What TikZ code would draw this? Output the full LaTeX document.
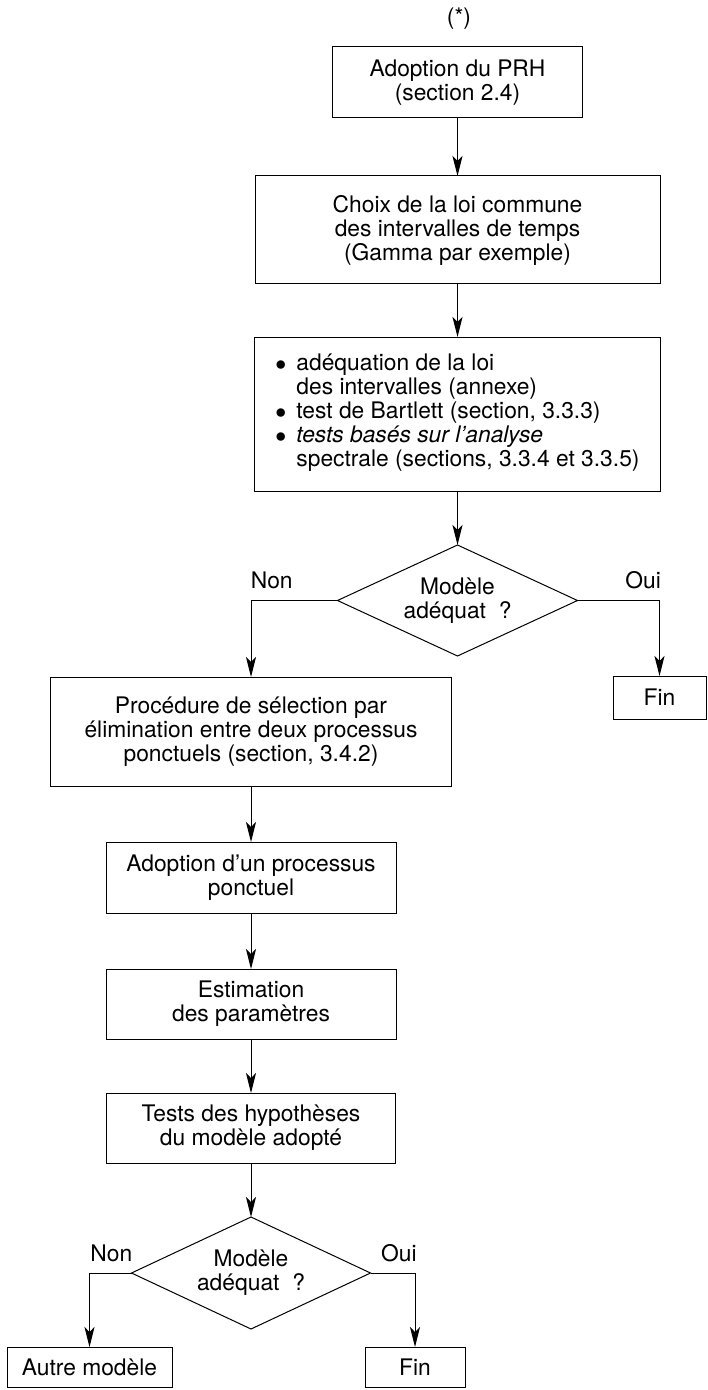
\documentclass[tikz,border=0pt]{standalone}
\usepackage{fontspec}
\setmainfont{TeX Gyre Heros}
\usetikzlibrary{positioning, arrows.meta, shapes}

\begin{document}
\begin{tikzpicture}[>={Stealth[length=10pt, width=5pt, inset=2.5pt]}, line width=0.5pt,
    every node/.style={font=\fontsize{11.4}{12}\selectfont},
    box/.style={draw, rectangle, align=center, inner sep=0pt, outer sep=0pt},
    test/.style={draw, diamond, shape aspect=2.16, align=center, inner sep=0pt, outer sep=0pt, minimum width=120pt, minimum height=55.5pt},
    lbl/.style={above=2pt}]
  \useasboundingbox (0,0) rectangle (353.5pt,-695pt);

  \node (star) at (229.5pt,-9.5pt) {(*)};
  \node[box, minimum width=125pt, minimum height=35.5pt] (prh) at (228.75pt,-41.25pt) {Adoption du PRH\\(section 2.4)};
  \node[box, minimum width=202.5pt, minimum height=54pt] (loi) [below = 29pt of prh] {Choix de la loi commune\\des intervalles de temps\\(Gamma par exemple)};
  \node[box, minimum width=203pt, minimum height=77pt] (crit) [below = 26.5pt of loi] {%
    \begin{tabular}{@{}l@{\hspace{5pt}}l@{}}
      $\bullet$ & adéquation de la loi\\
                & des intervalles (annexe)\\
      $\bullet$ & test de Bartlett (section, 3.3.3)\\
      $\bullet$ & \textit{tests basés sur l’analyse}\\
                & spectrale (sections, 3.3.4 et 3.3.5)
    \end{tabular}};
  \node[test] (ok1) [below = 27pt of crit] {Modèle\\adéquat\ \ ?};
  \node[box, minimum width=46.5pt, minimum height=21.5pt] (fin1) [below = 10pt of ok1, xshift=101pt] {Fin};
  \node[box, minimum width=200.5pt, minimum height=54.5pt] (proc) [below = 10.5pt of ok1, xshift=-103.25pt] {Procédure de sélection par\\élimination entre deux processus\\ponctuels (section, 3.4.2)};
  \node[box, minimum width=145pt, minimum height=35.5pt] (ponct) [below = 28pt of proc] {Adoption d’un processus\\ponctuel};
  \node[box, minimum width=145pt, minimum height=35pt] (estim) [below = 28pt of ponct] {Estimation\\des paramètres};
  \node[box, minimum width=144.5pt, minimum height=35pt] (hyp) [below = 27pt of estim] {Tests des hypothèses\\du modèle adopté};
  \node[test, minimum width=119.5pt, minimum height=56pt] (ok2) [below = 27pt of hyp] {Modèle\\adéquat\ \ ?};
  \node[box, minimum width=82.5pt, minimum height=20pt] (autre) [below = 9pt of ok2, xshift=-80.75pt] {Autre modèle};
  \node[box, minimum width=50pt, minimum height=20pt] (fin2) [below = 9pt of ok2, xshift=82pt] {Fin};

  \path[->]
    (prh) edge (loi)
    (loi) edge (crit)
    (crit) edge (ok1)
    (proc) edge (ponct)
    (ponct) edge (estim)
    (estim) edge (hyp)
    (hyp) edge (ok2)
  ;
  \draw[->] (ok1.west) -| node[lbl, pos=.38] {Non} (proc.north);
  \draw[->] (ok1.east) -| node[lbl, pos=.4] {Oui} (fin1.north);
  \draw[->] (ok2.west) -| node[lbl, pos=.24] {Non} (autre.north);
  \draw[->] (ok2.east) -| node[lbl, pos=.32] {Oui} (fin2.north);
\end{tikzpicture}
\end{document}
